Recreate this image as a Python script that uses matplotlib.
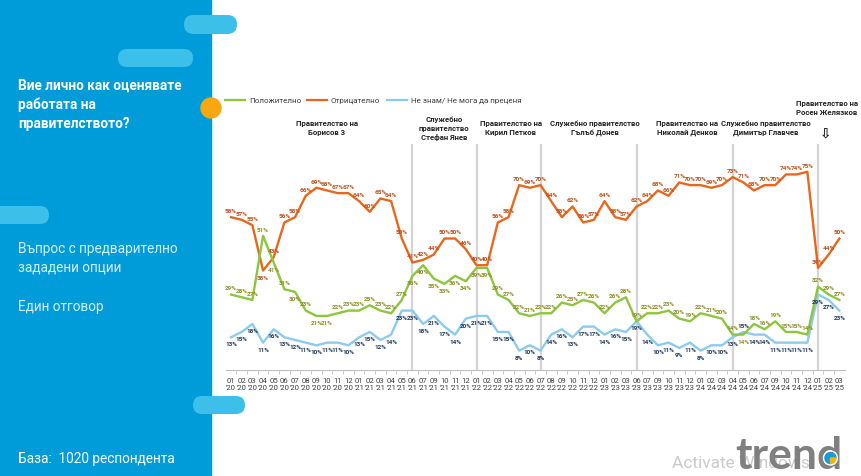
import matplotlib
matplotlib.use('Agg')
import matplotlib.pyplot as plt
from matplotlib.patches import FancyBboxPatch, Circle, Rectangle, Wedge
from matplotlib import font_manager

# --- data ---
months = ['01', '02', '03', '04', '05', '06', '07', '08', '09', '10', '11', '12',
          '01', '02', '03', '04', '05', '06', '07', '09', '10', '11', '12',
          '01', '02', '03', '04', '05', '06', '07', '08', '09', '10', '11', '12',
          '01', '02', '03', '06', '07', '09', '10', '11', '12',
          '01', '02', '03', '04', '05', '06', '07', '09', '10', '11', '12',
          '01', '02', '03']
years = ['20'] * 12 + ['21'] * 11 + ['22'] * 12 + ['23'] * 9 + ['24'] * 11 + ['25'] * 3

positive = [29, 28, 27, 51, 41, 31, 30, 23, 21, 21, 22, 23, 23, 25, 23, 22, 27, 36,
            40, 35, 33, 36, 34, 39, 39, 29, 27, 22, 21, 22, 22, 26, 25, 27, 26,
            22, 26, 28, 19, 22, 22, 23, 20, 19, 22, 21, 20, 14, 14, 18, 16, 19, 15, 15, 14, 32, 29, 27]
negative = [58, 57, 55, 38, 43, 56, 58, 66, 69, 68, 67, 67, 64, 60, 65, 64, 50, 41,
            42, 44, 50, 50, 46, 40, 40, 56, 58, 70, 69, 70, 64, 58, 62, 56, 57,
            64, 58, 57, 62, 64, 68, 66, 71, 70, 70, 69, 70, 73, 71, 68, 70, 70, 74, 74, 75, 39, 44, 50]
dont_know = [13, 15, 18, 11, 16, 13, 12, 11, 10, 11, 11, 10, 13, 15, 12, 14, 23, 23,
             18, 21, 17, 14, 20, 21, 21, 15, 15, 8, 10, 8, 14, 16, 13, 17, 17,
             14, 16, 15, 19, 14, 10, 11, 9, 11, 8, 10, 10, 13, 15, 14, 14, 11, 11, 11, 11, 29, 27, 23]

# months where the "Положително" value label sits under the line
green_below = [4, 6, 8, 9, 17, 18, 19, 20, 21, 22, 23, 24, 48]

# index of the month where each new cabinet starts (vertical separators)
gov_starts = [17, 23, 29, 38, 47, 55]
gov_names = ['Правителство на\nБорисов 3',
             'Служебно\nправителство\nСтефан Янев',
             'Правителство на\nКирил Петков',
             'Служебно правителство\nГълъб Донев',
             'Правителство на\nНиколай Денков',
             'Служебно правителство\nДимитър Главчев',
             'Правителство на\nРосен Желязков']

series_names = ['Положително', 'Отрицателно', 'Не знам/ Не мога да преценя']

GREEN = '#8cc63f'
ORANGE = '#e8671c'
BLUE = '#8ccbee'
GREEN_TXT = '#8f8f1f'
ORANGE_TXT = '#c4501c'
BLUE_TXT = '#1f3a5c'
PANEL = '#009bd9'
PILL = '#3cc0ea'

names = {f.name for f in font_manager.fontManager.ttflist}
NARROW = 'Liberation Sans Narrow' if 'Liberation Sans Narrow' in names else 'Roboto'
plt.rcParams['font.family'] = ['Roboto', 'DejaVu Sans']

W, H = 862, 477
fig = plt.figure(figsize=(W / 100, H / 100), dpi=100)

# background axes in pixel units
bg = fig.add_axes([0, 0, 1, 1])
bg.set_xlim(0, W)
bg.set_ylim(H, 0)
bg.axis('off')
bg.add_patch(Rectangle((0, 0), 211, H, color=PANEL, zorder=1))


def pill(x0, y0, x1, y1):
    h = y1 - y0
    bg.add_patch(FancyBboxPatch((x0, y0), x1 - x0, h,
                                boxstyle='round,pad=0,rounding_size=%f' % (h / 2),
                                color=PILL, lw=0, zorder=2))


pill(184, 16, 237, 35)
pill(118, 50, 193, 68)
pill(-20, 207, 49, 225)
pill(193, 397, 245, 415)
bg.add_patch(Circle((211, 109), 10, color='#f7a70f', zorder=3))

# left panel texts (baseline of the last line)
bg.text(18, 128, 'Вие лично как оценявате\nработата на\nправителството?', color='white',
        fontsize=9.8, fontweight='bold', family=NARROW, va='baseline', linespacing=1.45,
        zorder=4)
bg.text(18, 272, 'Въпрос с предварително\nзададени опции', color='#d6eefa', fontsize=9.8,
        family=NARROW, va='baseline', linespacing=1.45, zorder=4)
bg.text(18, 311, 'Един отговор', color='#d6eefa', fontsize=9.8, family=NARROW,
        va='baseline', zorder=4)
bg.text(18, 463, 'База:  1020 респондента', color='white', fontsize=9.8, family=NARROW,
        va='baseline', zorder=4)

# watermark / logo
bg.text(672, 468, 'Activate Windows', color='#cacaca', fontsize=12.5, va='baseline', zorder=4)
logo = bg.text(735, 469, 'trend', color='#808080', fontsize=32, fontweight='bold',
               family='Lato', va='baseline', zorder=5)
fig.canvas.draw()
lb = logo.get_window_extent()
d_x = lb.x1 - 0.11 * lb.width
bg.add_patch(Circle((d_x, 459), 7, color='white', zorder=6))
bg.add_patch(Wedge((d_x, 459), 5.5, 90, 360, color='#1a9ad6', zorder=7))
bg.add_patch(Wedge((d_x, 459), 5.5, 0, 90, color='#f7b500', zorder=7))

# legend
leg_x = [225, 307, 387]
for lx, name, col in zip(leg_x, series_names, [GREEN, ORANGE, BLUE]):
    bg.plot([lx, lx + 20], [101, 101], color=col, lw=1.6, zorder=4)
    bg.text(lx + 24, 101, name, fontsize=5.8, color='#404040', va='center',
            family=NARROW, zorder=4)

# cabinet headings
head_x = [327, 444, 511, 595, 687, 766, 827]
head_y = [136, 141, 136, 136, 136, 136, 116]
for hx, hy, name in zip(head_x, head_y, gov_names):
    bg.text(hx, hy, name, fontsize=5.6, fontweight='bold', color='#262626', ha='center',
            va='bottom', family=NARROW, linespacing=1.35, zorder=4)
bg.text(826, 133, '⇩', fontsize=10, fontweight='bold', color='#262626', ha='center',
        va='center', family='DejaVu Sans', zorder=4)

# --- main chart ---
n = len(months)
ax = fig.add_axes([225.7 / W, 106 / H, 619 / W, 226 / H])
ax.patch.set_alpha(0)
ax.set_xlim(-0.5, n - 0.5)
ax.set_ylim(0.75, 85.4)
x = list(range(n))

for g in gov_starts:
    ax.axvline(g, color='#d4d4d4', lw=1.6, zorder=1)

ax.plot(x, negative, color=ORANGE, lw=1.7, zorder=3)
ax.plot(x, positive, color=GREEN, lw=1.7, zorder=3)
ax.plot(x, dont_know, color=BLUE, lw=1.7, zorder=2)


def label(i, v, col, above):
    ax.annotate('%d%%' % v, (i, v), xytext=(0, 3 if above else -3), textcoords='offset points',
                ha='center', va='bottom' if above else 'top', fontsize=4.6, fontweight='bold',
                color=col, family=NARROW, zorder=5)


for i in x:
    label(i, negative[i], ORANGE_TXT, negative[i] >= positive[i])
    label(i, positive[i], GREEN_TXT, i not in green_below)
    label(i, dont_know[i], BLUE_TXT, dont_know[i] > positive[i] or i in (48,))

for side in ['top', 'right', 'left']:
    ax.spines[side].set_visible(False)
ax.spines['bottom'].set_color('#bfbfbf')
ax.spines['bottom'].set_linewidth(0.8)
ax.set_yticks([])
ax.set_xticks(x)
ax.set_xticklabels(["%s\n'%s" % (m, y) for m, y in zip(months, years)], fontsize=5.6,
                   color='#404040', family=NARROW, linespacing=1.2)
ax.set_xticks([i + 0.5 for i in x[:-1]], minor=True)
ax.tick_params(axis='x', which='major', length=0, pad=5)
ax.tick_params(axis='x', which='minor', length=3, color='#bfbfbf', width=0.6)

fig.savefig('out.png', dpi=100)
